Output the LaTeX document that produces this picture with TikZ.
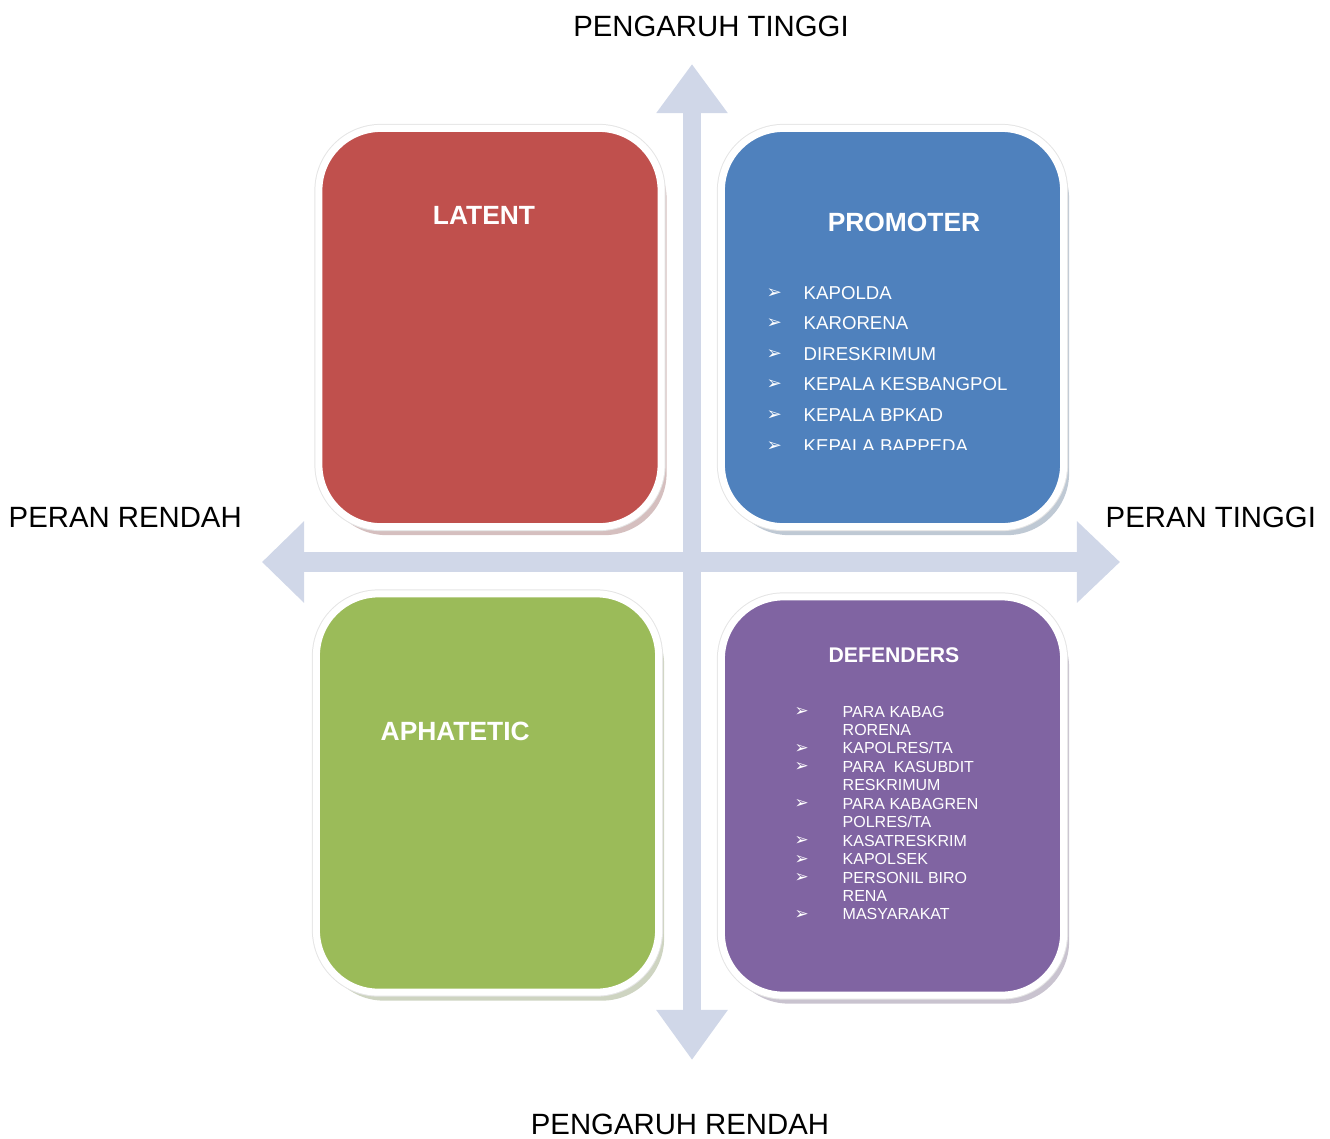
\documentclass[tikz,border=0pt]{standalone}
\usepackage{fontspec}
\setmainfont{Liberation Sans}
\newfontfamily\symfont{DejaVu Sans}
\usetikzlibrary{arrows.meta, shadows, positioning}

\definecolor{latentred}{HTML}{C0504D}
\definecolor{promblue}{HTML}{4F81BD}
\definecolor{apagreen}{HTML}{9BBB59}
\definecolor{defpurple}{HTML}{8064A2}
\definecolor{axisblue}{RGB}{208,215,232}

\begin{document}
\begin{tikzpicture}[x=0.01cm, y=-0.01cm,
    quad/.style={rectangle, rounded corners=0.62cm, minimum width=3.42cm, minimum height=3.98cm, inner sep=0,
        drop shadow={shadow xshift=0.055cm, shadow yshift=-0.085cm, fill=#1!45!gray!85},
        preaction={draw=black!10, line width=0.09cm},
        fill=#1, draw=white, line width=0.07cm},
    axislabel/.style={font=\fontsize{8.34}{10}\selectfont, inner sep=0, anchor=base},
    boxtitle/.style={font=\bfseries\fontsize{7.5}{9}\selectfont, text=white, inner sep=0, anchor=base},
    promitem/.style={font=\fontsize{5.3}{6}\selectfont, text=white, inner sep=0, anchor=base west},
    defitem/.style={font=\fontsize{4.55}{5}\selectfont, text=white, inner sep=0, anchor=base west},
    bullet/.style={font=\symfont\fontsize{5.2}{6}\selectfont, text=white, inner sep=0, anchor=base west}]
    \useasboundingbox (0,0) rectangle (1330,1138);

    % axes
    \coordinate (up) at (692,64);
    \coordinate (down) at (692,1060);
    \coordinate (left) at (262,562);
    \coordinate (right) at (1120,562);
    \draw[axisblue, line width=0.18cm, {Triangle[width=0.68cm,length=0.49cm]}-{Triangle[width=0.68cm,length=0.5cm]}] (up) -- (down);
    \draw[axisblue, line width=0.2cm, {Triangle[width=0.79cm,length=0.42cm]}-{Triangle[width=0.79cm,length=0.43cm]}] (left) -- (right);

    \node[axislabel] (high) at (711,36) {PENGARUH TINGGI};
    \node[axislabel] (low) at (680,1134) {PENGARUH RENDAH};
    \node[axislabel, anchor=base west] (lowrole) at (8,527) {PERAN RENDAH};
    \node[axislabel, anchor=base west] (highrole) at (1105,527) {PERAN TINGGI};

    % quadrants
    \node[quad=latentred] (latent) at (490,327.5) {};
    \node[quad=promblue] (promoter) at (892.5,327.5) {};
    \node[quad=apagreen] (aphatetic) at (487.5,793) {};
    \node[quad=defpurple] (defenders) at (892.5,796) {};

    \node[boxtitle] (latent title) at (484,224) {LATENT};
    \node[boxtitle] (promoter title) at (904,231) {PROMOTER};
    \node[boxtitle, anchor=base west] (aphatetic title) at (380,740) {APHATETIC};
    \node[boxtitle, font=\bfseries\fontsize{6.03}{7}\selectfont] (defenders title) at (894,662) {DEFENDERS};

    \begin{scope}
        \clip (700,100) rectangle (1080,449);
        \foreach \t [count=\i from 0] in {KAPOLDA, KARORENA, DIRESKRIMUM, KEPALA KESBANGPOL, KEPALA BPKAD, KEPALA BAPPEDA} {
            \node[promitem] (prom\i) at (803, 299+30.6*\i) {\t};
            \node[bullet] (promb\i) at (766, 298+30.6*\i) {➢};
        }
    \end{scope}

    \foreach \t [count=\i from 0] in {PARA KABAG, RORENA, KAPOLRES/TA, PARA~ KASUBDIT, RESKRIMUM, PARA KABAGREN, POLRES/TA, KASATRESKRIM, KAPOLSEK, PERSONIL BIRO, RENA, MASYARAKAT}
        \node[defitem] (def\i) at (842, 717+18.45*\i) {\t};
    \foreach \i in {0,2,3,5,7,8,9,11}
        \node[bullet, font=\symfont\fontsize{4.8}{5}\selectfont] (defb\i) at (794, 716.5+18.45*\i) {➢};
\end{tikzpicture}
\end{document}
